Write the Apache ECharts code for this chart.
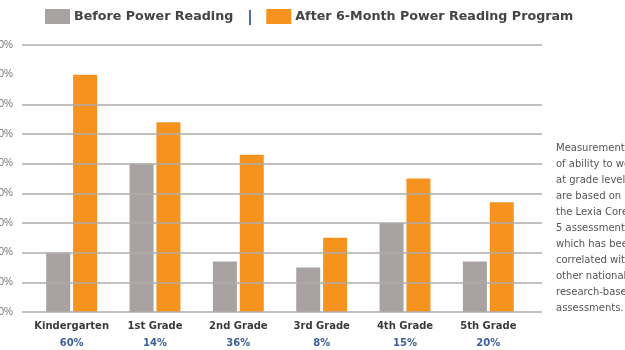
<!DOCTYPE html>
<html><head><meta charset="utf-8">
<script src="https://cdn.jsdelivr.net/npm/echarts@6/dist/echarts.min.js"></script>
<style>html,body{margin:0;padding:0;background:#fff}#c{width:625px;height:350px}</style>
</head><body><div id="c"></div>
<script>
var categories = ['Kindergarten', '1st Grade', '2nd Grade', '3rd Grade', '4th Grade', '5th Grade'];
var gains = ['60%', '14%', '36%', '8%', '15%', '20%'];
var beforeVals = [20, 50, 17, 15, 30, 17];
var afterVals = [80, 64, 53, 25, 45, 37];
var yTicks = [0, 10, 20, 30, 40, 50, 60, 70, 80, 90];
var hiddenGridTick = 80;
var noteLines = ['Measurements', 'of ability to work', 'at grade level', 'are based on', 'the Lexia Core', '5 assessment', 'which has been', 'correlated with', 'other national', 'research-based', 'assessments.'];
var seriesNames = ['Before Power Reading', 'After 6-Month Power Reading Program'];

var chart = echarts.init(document.getElementById('c'));
var font = 'Liberation Sans, Arial, sans-serif';
var wide = 'DejaVu Sans, sans-serif';

var gridLineData = yTicks.filter(function (t) { return t !== hiddenGridTick; })
  .map(function (t) { return { yAxis: t }; });

var option = {
  backgroundColor: '#fff',
  animation: false,
  textStyle: { fontFamily: font },
  legend: {
    left: 45, top: 9, padding: 0,
    itemWidth: 25, itemHeight: 15, itemGap: 33,
    icon: 'rect',
    textStyle: { fontSize: 12.7, fontWeight: 'bold', color: '#444', fontFamily: wide, padding: [0, 0, 0, -1] },
    data: seriesNames
  },
  graphic: [
    { type: 'rect', left: 249, top: 10, shape: { width: 2, height: 15 }, style: { fill: '#4a6fa5' } },
    { type: 'text', left: 556, top: 140, style: { text: noteLines.join('\n'), fill: '#555', font: '10px ' + wide, lineHeight: 16 } }
  ],
  grid: [
    { left: 22, right: 83, top: 45, bottom: 38, outerBoundsMode: 'none', containLabel: false },
    { left: 30, right: 95, top: 45, bottom: 38, outerBoundsMode: 'none', containLabel: false }
  ],
  xAxis: [
    { gridIndex: 0, type: 'category', data: categories, show: false },
    {
      gridIndex: 1, type: 'category', data: categories,
      axisLine: { show: false }, axisTick: { show: false },
      axisLabel: {
        margin: 6, interval: 0,
        formatter: function (v, i) { return '{a|' + v + '}\n{b|' + gains[i] + '}'; },
        rich: {
          a: { fontSize: 10, fontWeight: 'bold', color: '#3a3a3a', lineHeight: 17, fontFamily: wide },
          b: { fontSize: 10, fontWeight: 'bold', color: '#3a5f9a', lineHeight: 17, fontFamily: wide }
        }
      }
    }
  ],
  yAxis: [
    {
      gridIndex: 0, type: 'value', min: 0, max: 90, interval: 10,
      axisLine: { show: false }, axisTick: { show: false },
      axisLabel: { margin: 9, fontSize: 10, color: '#777', formatter: '{value}%' },
      splitLine: { show: false }
    },
    {
      gridIndex: 1, type: 'value', min: 0, max: 90, interval: 10, show: false,
      splitLine: { show: false }
    }
  ],
  series: [
    {
      name: 'grid', type: 'bar', xAxisIndex: 0, yAxisIndex: 0, data: [], silent: true,
      markLine: {
        silent: true, symbol: 'none', label: { show: false },
        lineStyle: { color: '#b0abab', width: 1.6, type: 'solid' },
        data: gridLineData
      }
    },
    {
      name: seriesNames[0], type: 'bar', xAxisIndex: 1, yAxisIndex: 1,
      data: beforeVals, barWidth: 24, barGap: '12%',
      itemStyle: { color: '#a8a2a2' }
    },
    {
      name: seriesNames[1], type: 'bar', xAxisIndex: 1, yAxisIndex: 1,
      data: afterVals, barWidth: 24, barGap: '12%',
      itemStyle: { color: '#f6921e' }
    }
  ]
};
chart.setOption(option);
</script>
</body></html>
